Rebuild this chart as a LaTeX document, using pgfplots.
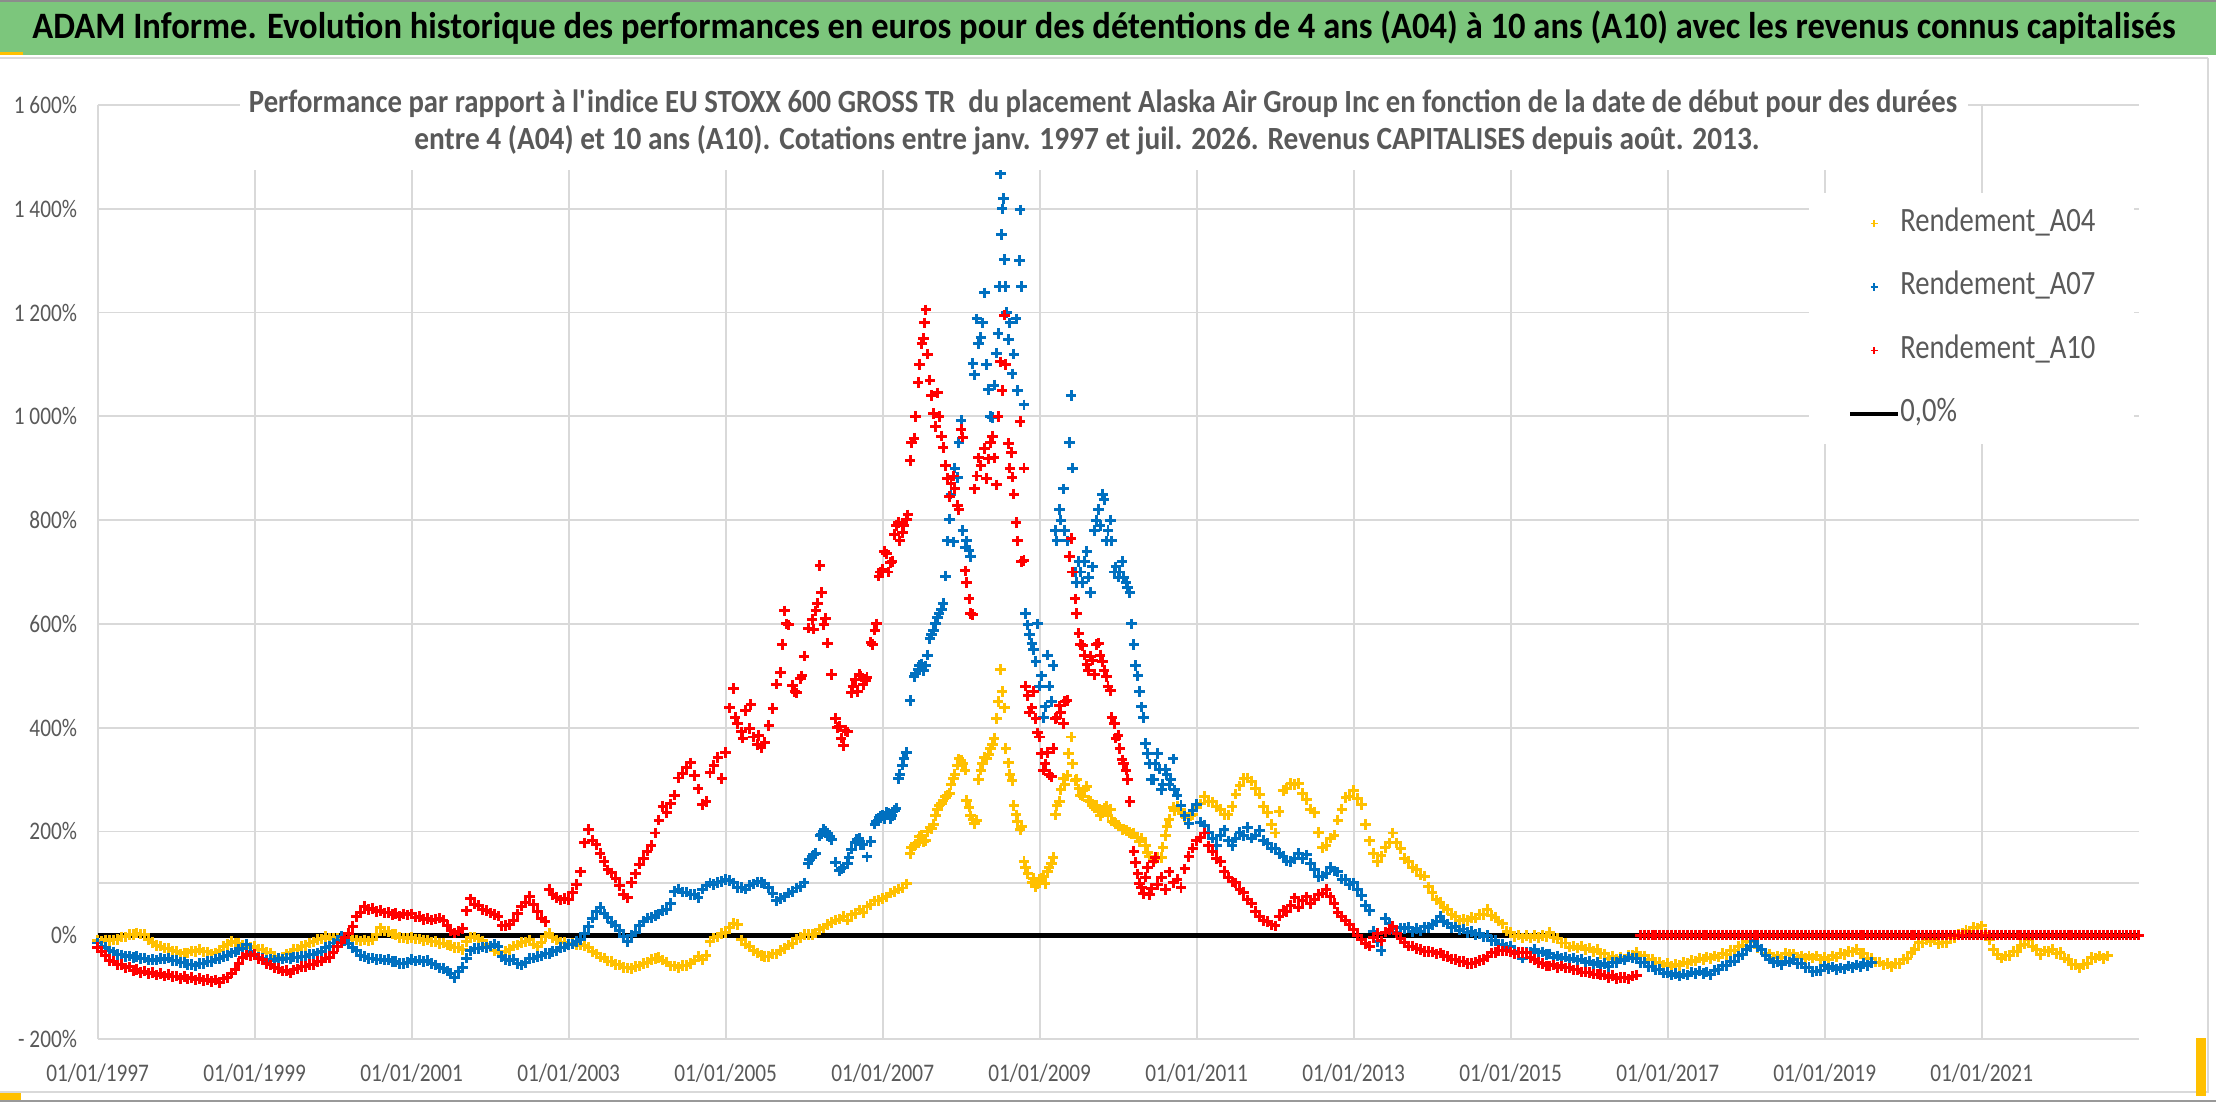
\documentclass[border=0pt]{standalone}
\usepackage{graphicx}
\usepackage{fontspec}
\setmainfont{Carlito}[FakeStretch=0.84]
\usepackage{pgfplots}
\usepackage{pgfplotstable}
\pgfplotsset{compat=1.18}
\definecolor{gridc}{HTML}{D9D9D9}
\definecolor{txt}{HTML}{595959}
\definecolor{ylw}{HTML}{FFC000}
\definecolor{blu}{HTML}{0070C0}
\definecolor{rd}{HTML}{FF0000}
\definecolor{grn}{HTML}{7CC67C}

% Rendement_A10, every 0.05 year from 1997.00
\pgfplotstableread{
y
-23
-31
-40
-49
-50
-57
-56
-63
-61
-68
-66
-72
-69
-74
-72
-77
-74
-79
-76
-80
-79
-83
-80
-84
-81
-86
-83
-87
-85
-89
-86
-91
-84
-81
-73
-67
-54
-43
-38
-40
-37
-45
-47
-55
-57
-63
-64
-69
-68
-73
-67
-65
-60
-60
-56
-56
-51
-50
-44
-43
-33
-22
-15
-4
4
17
36
44
56
50
52
46
48
43
44
40
42
37
41
39
41
35
36
30
32
29
31
33
28
19
9
4
8
13
47
70
60
58
50
48
43
40
37
18
19
21
28
41
56
64
75
59
46
33
26
88
78
73
68
71
69
82
98
122
178
204
183
174
158
142
126
120
110
96
79
72
102
118
137
148
162
173
197
222
248
236
253
270
303
312
324
332
308
282
252
258
313
327
343
302
352
438
475
408
392
433
398
382
368
362
372
404
437
484
506
625
598
482
467
494
538
592
608
625
712
598
563
502
418
402
366
392
468
493
502
483
497
565
588
692
705
735
718
772
795
776
802
915
958
1065
1140
1205
1070
1005
1045
962
905
845
885
828
975
702
648
618
885
905
938
918
962
868
1105
1195
948
883
795
990
722
462
438
418
382
318
352
305
418
442
408
452
765
648
582
558
522
538
502
563
528
498
472
408
385
338
318
258
162
118
92
112
78
142
98
112
88
122
101
108
92
128
152
168
182
188
197
172
162
148
142
123
112
103
101
88
82
68
62
46
37
28
26
20
18
37
48
46
58
72
54
66
74
61
68
79
81
88
74
61
44
36
28
21
11
-1
-9
-16
-21
-4
4
-11
6
11
17
4
-6
-14
-21
-21
-26
-27
-31
-31
-32
-36
-34
-39
-41
-46
-47
-51
-51
-55
-54
-53
-49
-47
-41
-34
-33
-29
-30
-30
-32
-36
-33
-33
-34
-43
-47
-53
-54
-59
-59
-57
-62
-59
-63
-63
-67
-67
-71
-71
-72
-75
-75
-76
-77
-81
-78
-83
-82
-82
-84
-79
-77
0
0
0
0
0
0
0
0
0
0
0
0
0
0
0
0
0
0
0
0
0
0
0
0
0
0
0
0
0
0
0
0
0
0
0
0
0
0
0
0
0
0
0
0
0
0
0
0
0
0
0
0
0
0
0
0
0
0
0
0
0
0
0
0
0
0
0
0
0
0
0
0
0
0
0
0
0
0
0
0
0
0
0
0
0
0
0
0
0
0
0
0
0
0
0
0
0
0
0
0
0
0
0
0
0
0
0
0
0
0
0
0
0
0
0
0
0
0
0
0
0
0
0
0
0
0
0
0
}\tAten

% Rendement_A07, every 0.05 year from 1997.00
\pgfplotstableread{
y
-15
-21
-24
-30
-32
-37
-38
-41
-40
-43
-41
-45
-44
-48
-47
-48
-45
-46
-44
-49
-49
-53
-53
-56
-56
-59
-55
-55
-51
-51
-46
-45
-41
-39
-34
-32
-28
-25
-18
-31
-37
-43
-44
-48
-47
-48
-45
-46
-44
-45
-42
-43
-41
-41
-37
-37
-34
-31
-24
-21
-15
-10
-2
-11
-16
-24
-30
-40
-41
-45
-44
-47
-46
-48
-47
-51
-51
-55
-54
-53
-47
-50
-48
-51
-49
-55
-57
-63
-64
-69
-74
-81
-69
-62
-44
-30
-26
-26
-23
-24
-21
-17
-21
-41
-47
-49
-47
-54
-57
-53
-44
-44
-41
-40
-35
-35
-31
-30
-24
-23
-18
-17
-12
-9
4
17
33
46
53
41
34
24
19
9
-2
-13
-1
6
19
27
33
34
38
41
48
49
61
84
89
83
83
79
78
73
89
95
101
98
102
104
107
105
101
92
92
89
96
99
103
102
99
92
81
66
71
74
81
84
91
94
101
138
152
158
192
204
197
184
141
124
131
139
166
179
186
174
151
181
214
226
231
236
224
241
302
328
352
452
498
512
523
519
572
588
612
628
692
802
758
882
992
748
742
1102
1188
1152
1238
1052
998
1122
1468
1302
1148
1082
1188
1398
1022
598
562
528
480
420
540
450
780
820
860
760
1040
700
720
680
740
660
780
820
850
760
800
700
690
720
680
660
560
500
440
370
330
300
350
280
320
290
340
270
250
230
215
240
252
218
212
198
187
173
192
203
182
173
187
198
192
208
187
193
202
183
177
168
167
158
152
143
142
148
157
148
155
138
127
113
114
118
130
124
122
108
107
98
101
88
77
58
47
8
-13
-29
32
23
12
6
14
13
15
7
13
8
16
15
21
26
37
26
22
14
16
10
12
5
7
1
3
-3
-1
-10
-10
-18
-17
-23
-21
-32
-34
-44
-33
-33
-27
-34
-32
-37
-36
-42
-40
-45
-42
-47
-44
-49
-46
-52
-50
-56
-53
-58
-55
-60
-53
-53
-46
-48
-42
-44
-45
-53
-53
-60
-60
-67
-66
-73
-72
-77
-74
-79
-75
-77
-71
-74
-69
-74
-71
-76
-68
-67
-59
-59
-50
-50
-40
-37
-27
-22
-11
-22
-27
-40
-46
-53
-51
-57
-50
-52
-46
-54
-55
-63
-62
-70
-69
-68
-59
-64
-61
-66
-63
-65
-59
-62
-57
-60
-55
-58
-53
}\tAseven

% Rendement_A04, every 0.05 year from 1997.00
\pgfplotstableread{
y
-10
-12
-9
-10
-9
-8
-3
-3
1
1
4
2
1
-9
-14
-20
-21
-25
-25
-30
-31
-36
-34
-34
-30
-31
-28
-32
-32
-36
-34
-29
-21
-18
-12
-15
-15
-19
-19
-23
-22
-27
-28
-33
-34
-41
-44
-42
-36
-34
-28
-27
-22
-20
-15
-13
-8
-7
-2
-6
-5
-6
-3
-4
-4
-9
-9
-11
-9
-11
-9
1
14
8
7
2
1
-4
-5
-6
-4
-7
-7
-10
-9
-13
-12
-16
-15
-19
-20
-24
-24
-27
-13
-4
-3
-7
-11
-18
-21
-29
-34
-39
-31
-28
-21
-19
-14
-13
-9
-17
-21
-14
-2
4
-5
-9
-14
-14
-17
-16
-19
-18
-20
-24
-31
-36
-42
-44
-50
-51
-56
-57
-62
-63
-64
-60
-59
-54
-53
-47
-45
-43
-48
-52
-59
-59
-62
-58
-58
-54
-48
-41
-47
-39
-13
-5
-3
3
5
15
23
21
-9
-17
-21
-29
-34
-39
-41
-41
-36
-36
-29
-26
-19
-16
-7
-4
1
1
1
4
11
14
21
24
29
31
36
29
39
41
49
44
56
59
66
67
71
74
81
84
89
91
99
158
172
178
192
183
207
213
242
253
267
273
302
328
337
318
247
223
222
318
342
348
367
418
512
438
332
298
232
203
142
118
102
93
107
113
122
138
232
258
302
308
382
298
282
268
287
258
247
238
237
248
242
218
212
203
202
198
197
188
187
173
152
143
150
150
192
223
247
248
242
228
227
233
247
253
267
258
257
248
242
233
232
248
272
288
302
303
297
283
272
248
237
213
197
238
279
283
292
290
292
273
262
243
237
198
169
173
187
193
222
243
265
268
279
263
252
213
182
158
142
153
169
178
197
178
167
148
142
131
127
116
114
93
82
68
64
53
50
40
37
28
30
28
34
33
40
40
50
38
35
27
22
8
5
-2
0
-5
-1
-5
-1
-4
-1
-2
5
-4
-6
-15
-15
-23
-21
-25
-21
-27
-25
-31
-27
-35
-36
-44
-41
-46
-43
-47
-39
-39
-33
-40
-40
-47
-46
-53
-53
-58
-55
-60
-56
-58
-52
-54
-49
-50
-44
-47
-42
-45
-40
-42
-35
-37
-29
-29
-21
-20
-12
-12
-13
-24
-27
-36
-36
-43
-40
-42
-35
-37
-36
-43
-40
-44
-40
-44
-40
-46
-43
-46
-40
-42
-35
-37
-31
-32
-27
-35
-35
-44
-44
-52
-52
-57
-54
-60
-55
-54
-46
-45
-33
-27
-14
-15
-9
-12
-9
-16
-14
-14
-5
-5
2
3
10
8
15
14
18
3
-8
-27
-38
-44
-40
-40
-31
-31
-20
-17
-8
-22
-28
-37
-30
-31
-28
-35
-33
-44
-46
-57
-56
-63
-56
-54
-43
-44
-40
-45
-40
}\tAfour

\pgfplotsset{mk/.style={only marks, mark=+, mark size=1.5pt, #1, mark options={line width=0.85pt}}}

\begin{document}
\begin{tikzpicture}
\path[use as bounding box] (0,0) rectangle (22.16,11.02);
\fill[white] (0,0) rectangle (22.16,11.02);
% title bar
\fill[grn] (0,10.47) rectangle (22.16,11.02);
\draw[black!45, line width=0.6pt] (0,11.01) -- (22.16,11.01);
\fill[ylw] (0,10.47) rectangle (0.23,10.50);
\draw[gridc, line width=0.6pt] (0,10.44) -- (22.08,10.44);
% frame
\draw[gridc, line width=0.6pt] (22.08,10.44) -- (22.08,0.10) -- (0,0.10);
\draw[black!40, line width=0.8pt] (0,0.01) -- (22.16,0.01);
\fill[ylw] (21.96,0.06) rectangle (22.06,0.64);
\fill[ylw] (0,0.02) rectangle (0.21,0.09);
\node[anchor=base, inner sep=0pt] at (11.04,10.63) {\resizebox{21.43cm}{\height}{\fontsize{10.6}{12}\selectfont\bfseries ADAM Informe. Evolution historique des performances en euros pour des détentions de 4 ans (A04) à 10 ans (A10) avec les revenus connus capitalisés}};

\begin{axis}[
  at={(0.977cm,0.63cm)}, anchor=south west,
  scale only axis, width=20.41cm, height=9.34cm,
  xmin=1997, xmax=2023, ymin=-200, ymax=1600,
  axis line style={draw=none},
  xtick={1997,1999,...,2021},
  xticklabels={01/01/1997,01/01/1999,01/01/2001,01/01/2003,01/01/2005,01/01/2007,01/01/2009,01/01/2011,01/01/2013,01/01/2015,01/01/2017,01/01/2019,01/01/2021},
  ytick={-200,0,...,1600},
  yticklabels={- 200\%,0\%,200\%,400\%,600\%,800\%,1 000\%,1 200\%,1 400\%,1 600\%},
  major tick length=0pt,
  grid=major,
  major grid style={gridc, line width=0.5pt},
  extra y ticks={100},
  extra y tick labels={},
  extra y tick style={grid style={black!27, line width=0.6pt}},
  tick label style={font=\fontsize{7.2}{8}\selectfont, text=txt},
  yticklabel style={inner sep=0pt, xshift=-0.2cm},
  xticklabel style={inner sep=0pt, yshift=-0.24cm},
  legend image code/.code={\draw[mark repeat=2,mark phase=2,#1,mark size=1.0pt,mark options={line width=0.5pt}] plot coordinates {(0cm,0cm) (0.24cm,0cm) (0.48cm,0cm)};},
  legend style={at={(0.838,0.906)}, anchor=north west, draw=none, fill=white,
    font=\fontsize{9.7}{11}\selectfont, text=txt,
    inner xsep=0.39cm, inner ysep=0.16cm, row sep=0.355cm,
    nodes={inner sep=0pt, text height=0.22cm, text depth=0.06cm},
    /tikz/column 2/.style={column sep=0.05cm}},
  legend cell align=left,
]
\addplot[black, line width=1.3pt, forget plot] coordinates {(1997,0) (2023,0)};
% A04
\addplot[mk=ylw, forget plot] coordinates {
(2007.37,170) (2007.42,175) (2007.47,190) (2007.52,180) (2007.57,200) (2007.62,205) (2007.67,230)
(2007.72,250) (2007.77,260) (2007.82,270) (2007.87,290) (2007.92,310) (2007.97,340)
(2008.02,330) (2008.07,260) (2008.12,230) (2008.17,215) (2008.22,300) (2008.27,330)
(2008.32,340) (2008.37,360) (2008.42,380) (2008.47,450) (2008.52,470) (2008.57,360)
(2008.62,310) (2008.67,250) (2008.72,220) (2008.77,210) (2008.82,130)
(2008.92,110) (2008.97,100) (2009.02,110) (2009.07,100) (2009.12,130) (2009.17,150)
(2009.22,250) (2009.27,280) (2009.32,290) (2009.37,350) (2009.42,330) (2009.47,300)
(2009.52,270) (2009.57,280) (2009.62,260) (2009.67,250) (2009.72,250) (2009.77,230)
(2009.82,245) (2009.87,230) (2009.92,220) (2009.97,215)
(2010.07,205) (2010.17,195) (2010.27,180) (2010.37,160) (2010.47,147) (2010.57,170)
(2010.62,210) (2010.72,240) (2010.82,235) (2010.92,230)};
\addplot[mk=ylw] table[x expr=1997+\coordindex*0.05, y=y] {\tAfour};
\addlegendentry{Rendement\_A04}
% A07
\addplot[mk=blu, forget plot] coordinates {
(2006.07,145) (2006.12,155) (2006.22,195) (2006.27,200) (2006.32,190)
(2006.47,128) (2006.57,150) (2006.67,185) (2006.72,175)
(2006.92,220) (2006.97,230) (2007.02,225) (2007.07,235) (2007.12,230) (2007.17,245)
(2007.22,310) (2007.27,340)
(2007.42,505) (2007.47,520) (2007.52,510) (2007.57,540) (2007.62,580) (2007.67,600) (2007.72,620) (2007.77,640)
(2007.82,760) (2007.87,850) (2007.92,900) (2007.97,950) (2008.02,780) (2008.07,760) (2008.12,730)
(2008.17,1080) (2008.22,1140) (2008.27,1180) (2008.32,1100)
(2008.37,1000) (2008.42,1060) (2008.47,1160) (2008.49,1250)
(2008.51,1350) (2008.52,1400) (2008.54,1420) (2008.56,1250) (2008.58,1200)
(2008.62,1180) (2008.67,1120) (2008.72,1050) (2008.74,1300) (2008.77,1250)
(2008.82,620) (2008.87,580) (2008.92,550) (2008.97,600)
(2009.02,500) (2009.07,440) (2009.12,480) (2009.17,520)
(2009.22,760) (2009.27,800) (2009.32,780)
(2009.38,950) (2009.42,900) (2009.47,680)
(2009.52,700) (2009.57,720) (2009.62,690) (2009.67,710)
(2009.72,800) (2009.77,790) (2009.82,840) (2009.87,780) (2009.92,760)
(2009.97,710) (2010.02,700) (2010.07,690) (2010.12,670) (2010.17,600)
(2010.22,520) (2010.27,470) (2010.32,420) (2010.37,350) (2010.42,300) (2010.47,330)
(2010.52,320) (2010.57,290) (2010.62,310) (2010.67,300) (2010.72,280)};
\addplot[mk=blu] table[x expr=1997+\coordindex*0.05, y=y] {\tAseven};
\addlegendentry{Rendement\_A07}
% A10
\addplot[mk=rd, forget plot] coordinates {
(2005.12,420) (2005.22,380) (2005.32,445) (2005.42,385)
(2005.72,560) (2005.77,600) (2005.88,470) (2005.97,500)
(2006.12,590) (2006.17,640) (2006.22,660) (2006.27,610)
(2006.42,400) (2006.47,380) (2006.52,395)
(2006.62,480) (2006.68,470) (2006.72,500) (2006.78,490)
(2006.87,560) (2006.92,600) (2006.97,700) (2007.02,740) (2007.07,700) (2007.12,720)
(2007.17,790) (2007.22,760) (2007.27,790) (2007.32,810)
(2007.37,950) (2007.42,1000) (2007.47,1100) (2007.52,1150) (2007.53,1180) (2007.57,1120)
(2007.62,1040) (2007.67,980) (2007.72,1000) (2007.77,940) (2007.82,880)
(2007.87,870) (2007.92,860) (2007.97,820) (2008.02,960)
(2008.07,680) (2008.12,620) (2008.17,860) (2008.22,920)
(2008.32,880) (2008.37,950) (2008.42,920) (2008.47,1000)
(2008.52,1050) (2008.57,1100) (2008.62,900) (2008.64,930)
(2008.67,850) (2008.72,760) (2008.77,720) (2008.80,900)
(2008.82,480) (2008.87,430) (2008.92,470) (2008.97,390)
(2009.02,350) (2009.07,330) (2009.12,310) (2009.17,360) (2009.22,420) (2009.27,430) (2009.32,450)
(2009.38,730) (2009.42,700) (2009.47,620)
(2009.52,560) (2009.57,540) (2009.62,510) (2009.67,530) (2009.72,560) (2009.77,540) (2009.82,510) (2009.87,480)
(2009.92,420) (2009.97,380) (2010.02,360) (2010.07,330) (2010.12,300)
(2010.22,140) (2010.27,100) (2010.32,80) (2010.37,130) (2010.42,90) (2010.47,150)};
\addplot[mk=rd] table[x expr=1997+\coordindex*0.05, y=y] {\tAten};
\addlegendentry{Rendement\_A10}
\addlegendimage{black, line width=1.3pt}
\addlegendentry{0,0\%}
\end{axis}

% chart subtitle (white box over plot area)
\fill[white] (2.40,9.32) rectangle (19.68,10.17);
\node[anchor=base, inner sep=0pt, text=txt] at (11.03,9.89) {\resizebox{17.08cm}{\height}{\fontsize{9.2}{11}\selectfont\bfseries Performance par rapport à l\textquotesingle indice EU STOXX 600 GROSS TR\ \ du placement Alaska Air Group Inc en fonction de la date de début pour des durées}};
\node[anchor=base, inner sep=0pt, text=txt] at (10.87,9.52) {\resizebox{13.45cm}{\height}{\fontsize{9.2}{11}\selectfont\bfseries entre 4 (A04) et 10 ans (A10). Cotations entre janv. 1997 et juil. 2026. Revenus CAPITALISES depuis août. 2013.}};
\end{tikzpicture}
\end{document}
